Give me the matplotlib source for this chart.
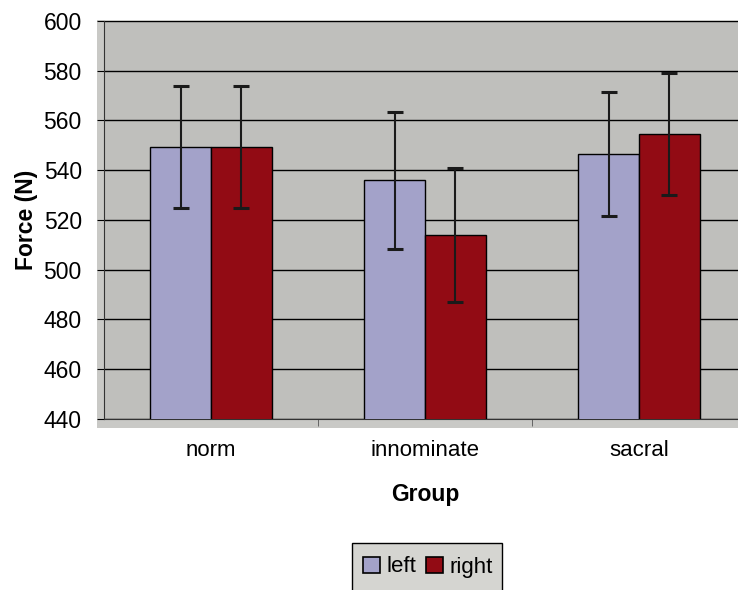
import matplotlib
matplotlib.use("Agg")
import matplotlib.pyplot as plt
import numpy as np
from matplotlib.patches import Rectangle, Patch

plt.rcParams['font.family'] = ['Liberation Sans', 'DejaVu Sans']

groups = ["norm", "innominate", "sacral"]
left_mean = [549.5, 536.0, 546.5]
left_err = [24.5, 27.5, 25.0]
right_mean = [549.5, 514.0, 554.5]
right_err = [24.5, 27.0, 24.5]
y_ticks = [440, 460, 480, 500, 520, 540, 560, 580, 600]

W, H = 738, 590
fig = plt.figure(figsize=(W / 100, H / 100), dpi=100)

panel_gray = "#bfbfbc"
lav = "#a3a2c9"
red = "#920b14"

# chart panel background behind the plot area
fig.patches.append(Rectangle((97 / W, 1 - 428 / H), 1.0, (428 - 20) / H,
                             transform=fig.transFigure, facecolor="#c9c9c6",
                             edgecolor="none", zorder=-5))

ax = fig.add_axes([104 / W, 1 - 419 / H, (746 - 104) / W, (419 - 21) / H])
ax.set_zorder(2)
ax.set_facecolor(panel_gray)

x = np.arange(len(groups))
bw = 0.285
ekw = dict(ecolor="#1a1a1a", elinewidth=1.5, capsize=6, capthick=2.2)
ax.bar(x - bw / 2, left_mean, bw, color=lav, edgecolor="black", linewidth=1.0,
       yerr=left_err, error_kw=ekw, zorder=3)
ax.bar(x + bw / 2, right_mean, bw, color=red, edgecolor="black", linewidth=1.0,
       yerr=right_err, error_kw=ekw, zorder=3)

ax.set_ylim(440, 600)
ax.set_xlim(-0.5, 2.5)
ax.set_yticks(y_ticks)
ax.yaxis.grid(True, color="black", linewidth=1.0)
ax.set_axisbelow(True)

ax.set_xticks(x)
ax.set_xticklabels(groups, fontsize=16)
ax.set_xticks([0.5, 1.5], minor=True)
ax.tick_params(axis="x", which="major", length=0, pad=15)
ax.tick_params(axis="x", which="minor", length=5, color="#555555")
ax.tick_params(axis="y", labelsize=16.5, length=5, pad=11)

for s in ["top", "right"]:
    ax.spines[s].set_visible(False)
ax.spines["left"].set_color("#333333")
ax.spines["bottom"].set_color("#333333")
ax.spines["left"].set_linestyle((0, (4, 1)))

ax.set_ylabel("Force (N)", fontsize=16.5, fontweight="bold", labelpad=4)
ax.set_xlabel("Group", fontsize=16.5, fontweight="bold", labelpad=16)

# legend box (its lower edge runs off the bottom of the figure)
fig.patches.append(Rectangle((352 / W, -0.05), 150 / W, 0.05 + 1 - 543 / H,
                             transform=fig.transFigure, facecolor="#d5d5d1",
                             edgecolor="black", linewidth=1.0, zorder=1))
handles = [Patch(facecolor=lav, edgecolor="black", linewidth=1.2, label="left"),
           Patch(facecolor=red, edgecolor="black", linewidth=1.2, label="right")]
leg = fig.legend(handles=handles, loc="center", ncol=2,
                 bbox_to_anchor=(428 / W, 1 - 567 / H), fontsize=16,
                 frameon=False, handlelength=0.75, handleheight=0.75,
                 handletextpad=0.3, columnspacing=0.45,
                 borderpad=0, borderaxespad=0)
leg.set_zorder(3)

fig.savefig("out.png", dpi=100)
